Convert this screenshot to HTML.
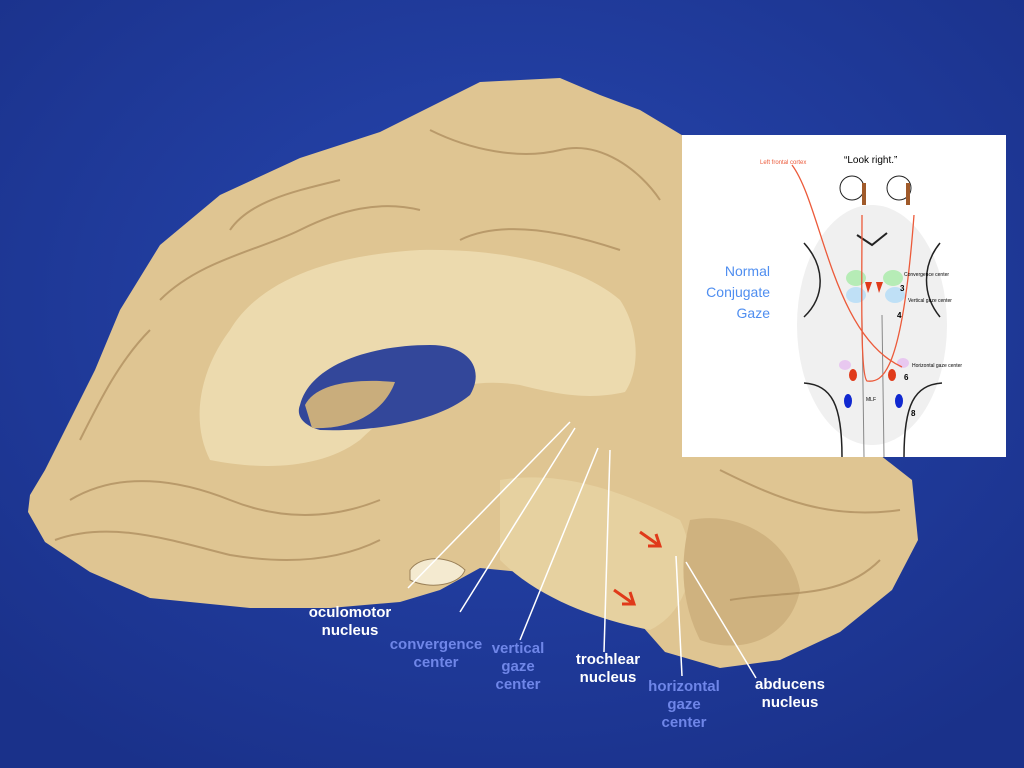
<!DOCTYPE html>
<html><head><meta charset="utf-8"><style>
body{margin:0;width:1024px;height:768px;overflow:hidden;background:#213c9c;font-family:"Liberation Sans",sans-serif;}
.lab{position:absolute;font-weight:bold;font-size:15px;line-height:18px;text-align:center;}
.w{color:#fff}.b{color:#6f86e8}
</style></head><body>
<svg width="1024" height="768" style="position:absolute;left:0;top:0">
<defs><radialGradient id="bg" cx="50%" cy="40%" r="70%"><stop offset="0" stop-color="#2747b0"/><stop offset="1" stop-color="#1a318a"/></radialGradient></defs>
<rect width="1024" height="768" fill="url(#bg)"/>
<path d="M30,495 L45,470 L70,420 L95,370 L120,310 L160,245 L220,195 L300,158 L380,132 L440,102 L480,82 L560,78 L600,95 L640,110 L690,140 L690,455 L880,455 L912,480 L918,540 L892,590 L840,632 L780,660 L720,668 L665,652 L635,618 L600,612 L560,598 L520,572 L480,568 L440,590 L400,602 L330,608 L250,608 L150,598 L90,572 L45,542 L28,512 Z" fill="#dfc592"/>
<path d="M230,330 C260,280 330,255 420,250 C500,248 580,265 620,300 C640,330 640,370 625,392 C590,400 560,395 520,385 C460,375 400,400 360,440 C320,470 260,470 210,460 C190,420 200,370 230,330Z" fill="#ecdaae"/>
<path d="M300,405 C310,365 370,345 430,345 C470,345 485,370 470,395 C440,420 380,432 320,430 C302,425 296,415 300,405Z" fill="#33479a"/>
<path d="M305,405 C315,385 350,378 395,382 C385,410 355,430 312,428Z" fill="#c9ad7c"/>
<path d="M500,480 C560,470 620,490 680,520 C700,560 690,610 650,630 C600,620 540,600 500,560Z" fill="#e6d1a0"/>
<path d="M690,520 C740,510 790,540 800,590 C790,640 740,655 700,640 C680,600 680,560 690,520Z" fill="#cfb27f"/>
<path d="M410,570 C420,555 450,555 465,570 C460,585 430,590 410,580Z" fill="#f4ead0" stroke="#9a8058"/>
<g fill="none" stroke="#a9895a" stroke-width="2" opacity="0.7">
<path d="M70,500 C120,470 180,480 230,500 C280,520 330,520 380,500"/>
<path d="M55,540 C110,520 170,540 230,555 C290,565 340,560 380,540"/>
<path d="M160,300 C200,260 260,250 300,230 C340,210 380,200 420,210"/>
<path d="M430,130 C470,150 520,160 560,150 C600,140 640,170 660,200"/>
<path d="M230,230 C250,200 300,190 340,180"/>
<path d="M80,440 C100,400 120,360 150,330"/>
<path d="M460,240 C500,220 560,230 620,250"/>
<path d="M720,470 C780,500 830,520 900,510"/>
<path d="M730,600 C790,590 840,600 880,560"/>
</g>
<g stroke="#fff" stroke-width="1.5">
<line x1="408" y1="588" x2="570" y2="422"/>
<line x1="460" y1="612" x2="575" y2="428"/>
<line x1="520" y1="640" x2="598" y2="448"/>
<line x1="604" y1="652" x2="610" y2="450"/>
<line x1="682" y1="676" x2="676" y2="556"/>
<line x1="756" y1="678" x2="686" y2="562"/>
</g>
<g stroke="#e03a1a" stroke-width="3" fill="none">
<path d="M640,532 L660,546 M648,546 L660,546 L656,534"/>
<path d="M614,590 L634,604 M622,604 L634,604 L630,592"/>
</g>
<rect x="682" y="135" width="324" height="322" fill="#fff"/>
<g transform="translate(682,135)">
<ellipse cx="190" cy="190" rx="75" ry="120" fill="#f0f0f0"/>
<path d="M122,108 C142,130 145,160 122,182" stroke="#222" stroke-width="1.5" fill="none"/>
<path d="M258,108 C240,130 240,160 258,182" stroke="#222" stroke-width="1.5" fill="none"/>
<path d="M175,100 L190,110 L205,98" stroke="#222" stroke-width="2" fill="none"/>
<path d="M122,248 C150,250 160,270 160,322 M260,248 C232,250 222,270 222,322" stroke="#222" stroke-width="1.5" fill="none"/>
<circle cx="170" cy="53" r="12" fill="none" stroke="#222"/><circle cx="217" cy="53" r="12" fill="none" stroke="#222"/>
<rect x="180" y="48" width="4" height="22" fill="#a05a2a"/><rect x="224" y="48" width="4" height="22" fill="#a05a2a"/>
<path d="M180,180 L182,322 M200,180 L202,322" stroke="#888" fill="none"/>
<ellipse cx="174" cy="143" rx="10" ry="8" fill="#b6ecb6"/><ellipse cx="211" cy="143" rx="10" ry="8" fill="#b6ecb6"/>
<ellipse cx="174" cy="160" rx="10" ry="8" fill="#bfe0f6"/><ellipse cx="213" cy="160" rx="10" ry="8" fill="#bfe0f6"/>
<path d="M183,147 L190,147 L186,158Z M194,147 L201,147 L197,158Z" fill="#e03a1a"/>
<ellipse cx="163" cy="230" rx="6" ry="5" fill="#e8c8f0"/><ellipse cx="221" cy="228" rx="6" ry="5" fill="#e8c8f0"/>
<ellipse cx="171" cy="240" rx="4" ry="6" fill="#e03a1a"/><ellipse cx="210" cy="240" rx="4" ry="6" fill="#e03a1a"/>
<ellipse cx="166" cy="266" rx="4" ry="7" fill="#1028d0"/><ellipse cx="217" cy="266" rx="4" ry="7" fill="#1028d0"/>
<path d="M110,30 C140,70 150,200 220,232 M180,80 C180,150 178,240 185,246 C200,248 220,240 232,80" stroke="#ec5a3a" stroke-width="1.3" fill="none"/>
<text x="78" y="29" font-size="6" fill="#ec5a3a" font-family="Liberation Sans">Left frontal cortex</text>
<text x="162" y="28" font-size="10" font-family="Liberation Sans">“Look right.”</text>
<text x="88" y="141" font-size="14" fill="#4f8ef0" text-anchor="end" font-family="Liberation Sans">Normal</text>
<text x="88" y="162" font-size="14" fill="#4f8ef0" text-anchor="end" font-family="Liberation Sans">Conjugate</text>
<text x="88" y="183" font-size="14" fill="#4f8ef0" text-anchor="end" font-family="Liberation Sans">Gaze</text>
<text x="222" y="141" font-size="5" font-family="Liberation Sans">Convergence center</text>
<text x="226" y="167" font-size="5" font-family="Liberation Sans">Vertical gaze center</text>
<text x="230" y="232" font-size="5" font-family="Liberation Sans">Horizontal gaze center</text>
<text x="218" y="156" font-size="8" font-weight="bold" font-family="Liberation Sans">3</text>
<text x="215" y="183" font-size="8" font-weight="bold" font-family="Liberation Sans">4</text>
<text x="222" y="245" font-size="8" font-weight="bold" font-family="Liberation Sans">6</text>
<text x="229" y="281" font-size="8" font-weight="bold" font-family="Liberation Sans">8</text>
<text x="184" y="266" font-size="5" font-family="Liberation Sans">MLF</text>
</g>
</svg>
<div class="lab w" style="left:300px;top:604px;width:100px">oculomotor<br>nucleus</div>
<div class="lab b" style="left:386px;top:636px;width:100px">convergence<br>center</div>
<div class="lab b" style="left:486px;top:640px;width:64px">vertical<br>gaze<br>center</div>
<div class="lab w" style="left:570px;top:651px;width:76px">trochlear<br>nucleus</div>
<div class="lab b" style="left:646px;top:678px;width:76px">horizontal<br>gaze<br>center</div>
<div class="lab w" style="left:750px;top:676px;width:80px">abducens<br>nucleus</div>
</body></html>
